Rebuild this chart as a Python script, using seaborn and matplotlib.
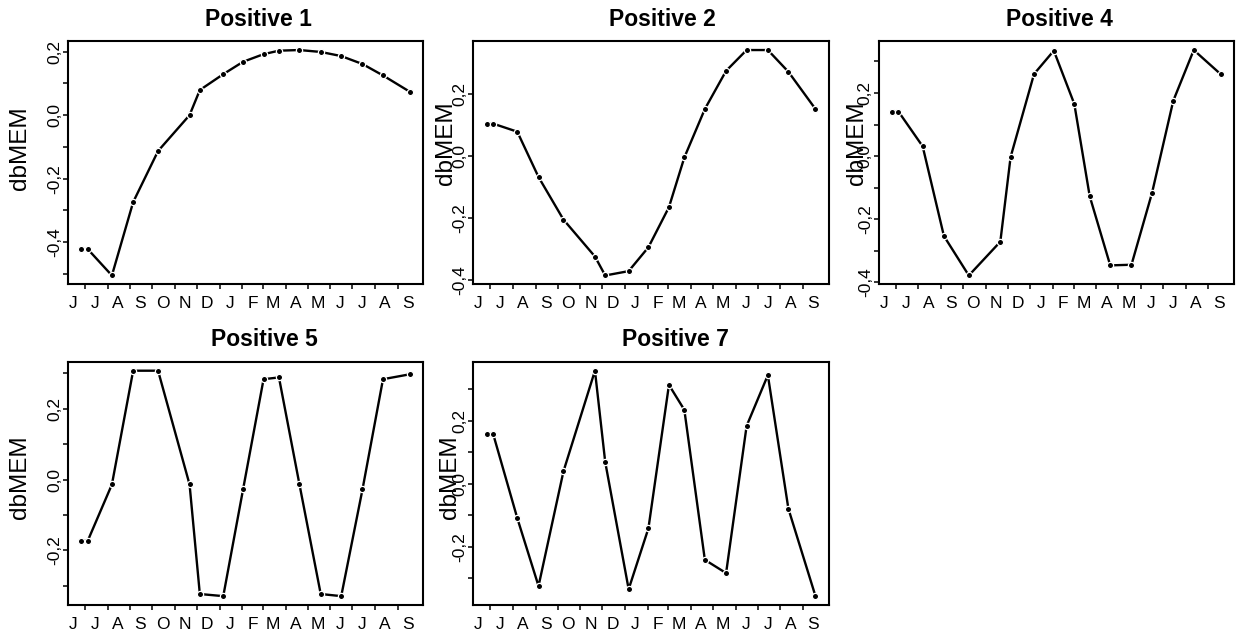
import pandas as pd
import numpy as np
import matplotlib.pyplot as plt
import matplotlib.ticker as mticker
import seaborn as sns

# sampling dates, June 2012 - September 2013
sample_dates = ['2012-06-26', '2012-07-05', '2012-08-07', '2012-09-05', '2012-10-09',
                '2012-11-21', '2012-12-05', '2013-01-06', '2013-02-02', '2013-03-02',
                '2013-03-23', '2013-04-20', '2013-05-19', '2013-06-16', '2013-07-15',
                '2013-08-12', '2013-09-18']

positive_1 = [-0.422, -0.422, -0.505, -0.274, -0.113, 0.000, 0.079, 0.129, 0.168,
              0.192, 0.203, 0.205, 0.199, 0.186, 0.161, 0.125, 0.073]
positive_2 = [0.104, 0.104, 0.078, -0.068, -0.205, -0.324, -0.385, -0.371, -0.294,
              -0.165, -0.005, 0.151, 0.274, 0.341, 0.341, 0.271, 0.151]
positive_4 = [0.141, 0.141, 0.031, -0.253, -0.378, -0.271, -0.003, 0.260, 0.334,
              0.165, -0.127, -0.346, -0.344, -0.117, 0.175, 0.336, 0.259]
positive_5 = [-0.173, -0.173, -0.014, 0.307, 0.307, -0.014, -0.323, -0.329, -0.028,
              0.283, 0.288, -0.014, -0.323, -0.329, -0.028, 0.283, 0.297]
positive_7 = [0.158, 0.158, -0.109, -0.324, 0.039, 0.358, 0.069, -0.334, -0.141,
              0.313, 0.234, -0.241, -0.283, 0.183, 0.344, -0.079, -0.356]

panel_titles = ['Positive 1', 'Positive 2', 'Positive 4', 'Positive 5', 'Positive 7']
panel_values = [positive_1, positive_2, positive_4, positive_5, positive_7]
month_labels = ['J', 'J', 'A', 'S', 'O', 'N', 'D', 'J', 'F', 'M', 'A', 'M', 'J', 'J', 'A', 'S']

# per-panel layout tweaks (y tick step, title x, ylabel position)
y_steps = [0.1, 0.2, 0.1, 0.1, 0.1]
title_x = [0.535, 0.531, 0.508, 0.552, 0.569]
ylabel_xy = [(-0.104, 0.56), (-0.045, 0.58), (-0.031, 0.58), (-0.104, 0.525), (-0.034, 0.525)]


def comma_fmt(v, pos):
    k = int(round(v * 10))
    if k % 2:
        return ''
    txt = f'{k / 10:.1f}'.replace('.', ',')
    return '0,0' if txt == '-0,0' else txt


def draw_panel(ax, dates, values, title, step, tx, ylab):
    df = pd.DataFrame({'date': dates, 'dbMEM': values})
    sns.lineplot(data=df, x='date', y='dbMEM', ax=ax, color='black', linewidth=1.7,
                 marker='o', markersize=4.5, markerfacecolor='black',
                 markeredgecolor='white', markeredgewidth=0.9, errorbar=None)

    # R-like 4% padding
    x0, x1 = dates.min(), dates.max()
    xpad = (x1 - x0) * 0.04
    ax.set_xlim(x0 - xpad, x1 + xpad)
    y0, y1 = min(values), max(values)
    ypad = (y1 - y0) * 0.04
    ax.set_ylim(y0 - ypad, y1 + ypad)

    # month boundaries as ticks, month letters at mid-month
    month_starts = pd.date_range('2012-07-01', '2013-09-01', freq='MS')
    mid_months = pd.date_range('2012-06-01', '2013-09-01', freq='MS') + pd.Timedelta(days=14)
    ax.set_xticks(month_starts)
    ax.set_xticklabels([''] * len(month_starts))
    ax.set_xticks(mid_months, minor=True)
    ax.set_xticklabels(month_labels, minor=True)
    ax.tick_params(axis='x', which='major', length=3.8, width=1.1, direction='out')
    ax.tick_params(axis='x', which='minor', length=0, pad=8.5, labelsize=12.5)

    ax.yaxis.set_major_locator(mticker.MultipleLocator(step))
    ax.yaxis.set_major_formatter(mticker.FuncFormatter(comma_fmt))
    ax.tick_params(axis='y', length=3.8, width=1.1, direction='out', labelsize=12.5,
                   labelrotation=90, pad=0.5)
    for lab in ax.get_yticklabels():
        lab.set_va('center')

    ax.set_title(title, fontsize=16.5, fontweight='bold', x=tx, pad=11)
    ax.set_xlabel('')
    ax.set_ylabel('dbMEM', fontsize=17.5)
    ax.yaxis.set_label_coords(*ylab)
    for sp in ax.spines.values():
        sp.set_linewidth(1.5)
        sp.set_color('black')


def main():
    sns.set_theme(style='ticks')
    plt.rcParams['font.family'] = ['Liberation Sans', 'DejaVu Sans']
    plt.rcParams['axes.edgecolor'] = 'black'
    plt.rcParams['xtick.color'] = 'black'
    plt.rcParams['ytick.color'] = 'black'
    plt.rcParams['text.color'] = 'black'
    plt.rcParams['axes.labelcolor'] = 'black'

    dates = pd.to_datetime(sample_dates)

    fig, axes = plt.subplots(2, 3, figsize=(12.36, 6.35), dpi=100)
    fig.subplots_adjust(left=0.055, right=0.9984, bottom=0.047, top=0.9354,
                        wspace=0.141, hspace=0.317)
    flat = axes.flatten()
    for i, ax in enumerate(flat[:5]):
        draw_panel(ax, dates, panel_values[i], panel_titles[i], y_steps[i],
                   title_x[i], ylabel_xy[i])
    flat[5].axis('off')

    fig.savefig('out.png', dpi=100, facecolor='white')
    plt.close(fig)


if __name__ == "__main__":
    main()
